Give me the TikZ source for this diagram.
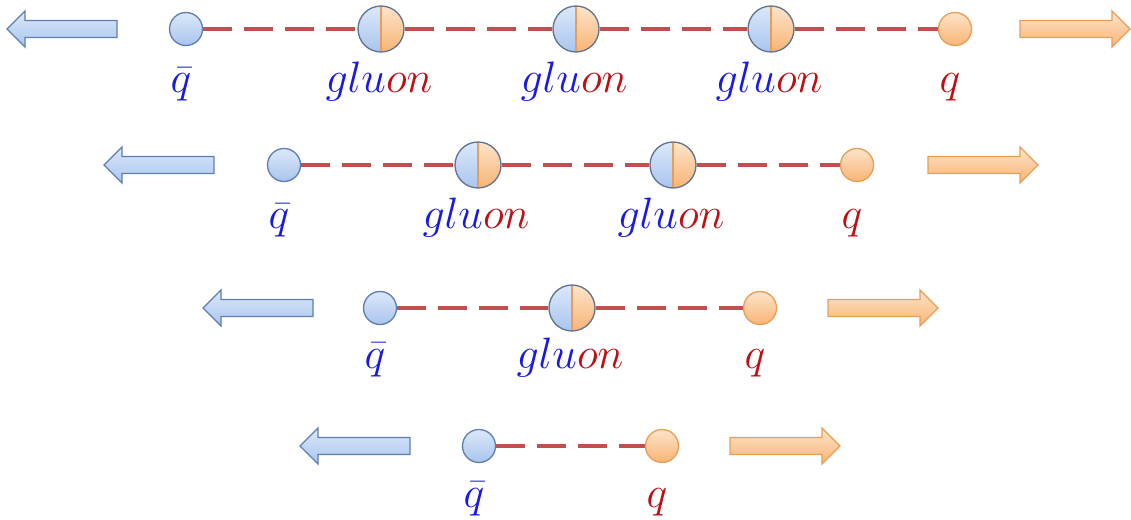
\documentclass[tikz,border=0pt]{standalone}
\usetikzlibrary{backgrounds}
\definecolor{qbtop}{HTML}{DCE8F9}
\definecolor{qbbot}{HTML}{A9C5EE}
\definecolor{qbdraw}{HTML}{5E7FB3}
\definecolor{qotop}{HTML}{FDE4CB}
\definecolor{qobot}{HTML}{F8B474}
\definecolor{qodraw}{HTML}{E99E55}
\definecolor{gdraw}{HTML}{5F7594}
\definecolor{dashred}{HTML}{C0504D}
\definecolor{txtblue}{RGB}{25,25,225}
\definecolor{txtred}{RGB}{190,15,20}
\tikzset{
  quarkb/.style={circle, minimum size=24.75pt, inner sep=0pt, draw=qbdraw, line width=1pt, top color=qbtop, bottom color=qbbot},
  quarko/.style={circle, minimum size=24.75pt, inner sep=0pt, draw=qodraw, line width=1pt, top color=qotop, bottom color=qobot},
  gluonst/.style={circle, minimum size=34.5pt, inner sep=0pt, draw=gdraw, line width=1pt,
    path picture={
      \shade[top color=qbtop, bottom color=qbbot] (path picture bounding box.south west) rectangle (path picture bounding box.north);
      \shade[top color=qotop, bottom color=qobot] (path picture bounding box.south) rectangle (path picture bounding box.north east);
      \draw[draw=qodraw, line width=1.2pt] (path picture bounding box.south) -- (path picture bounding box.north);
    }},
  string/.style={draw=dashred, line width=2.6pt, dash pattern=on 21.75pt off 9pt},
  larrowst/.style={draw=qbdraw, line width=1pt, top color=qbtop, bottom color=qbbot, line join=miter},
  rarrowst/.style={draw=qodraw, line width=1pt, top color=qotop, bottom color=qobot, line join=miter},
  lbl/.style={anchor=base, inner sep=0pt, font=\Huge, scale=1.326, transform shape}
}
\newcommand{\qqleft}[2]{\path[larrowst] (#1,#2) -- ++(18,-18) -- ++(0,9.5) -- ++(92,0) -- ++(0,17) -- ++(-92,0) -- ++(0,9.5) -- cycle;}
\newcommand{\qqright}[2]{\path[rarrowst] (#1,#2) -- ++(-18,-18) -- ++(0,9.5) -- ++(-92,0) -- ++(0,17) -- ++(92,0) -- ++(0,9.5) -- cycle;}
\newcommand{\gluontxt}{$\color{txtblue}glu\color{txtred}on$}
\begin{document}
\begin{tikzpicture}[x=0.75pt, y=-0.75pt]
\useasboundingbox (0,0) rectangle (1131,520);
% row 1
\qqleft{7}{29}
\qqright{1130}{29}
\node[quarkb] (qb1) at (186,29) {};
\node[gluonst] (g11) at (381,29) {};
\node[gluonst] (g12) at (576,29) {};
\node[gluonst] (g13) at (771,29) {};
\node[quarko] (q1) at (955,29) {};
\node[lbl] (lqb1) at (181,93) {$\color{txtblue}\bar q$};
\node[lbl] (lg11) at (379,93) {\gluontxt};
\node[lbl] (lg12) at (574,93) {\gluontxt};
\node[lbl] (lg13) at (769,93) {\gluontxt};
\node[lbl] (lq1) at (950,93) {$\color{txtred}q$};
% row 2
\qqleft{104}{165}
\qqright{1038}{165}
\node[quarkb] (qb2) at (284,165) {};
\node[gluonst] (g21) at (478,165) {};
\node[gluonst] (g22) at (673,165) {};
\node[quarko] (q2) at (857,165) {};
\node[lbl] (lqb2) at (279,229) {$\color{txtblue}\bar q$};
\node[lbl] (lg21) at (476,229) {\gluontxt};
\node[lbl] (lg22) at (671,229) {\gluontxt};
\node[lbl] (lq2) at (852,229) {$\color{txtred}q$};
% row 3
\qqleft{203}{308}
\qqright{938}{308}
\node[quarkb] (qb3) at (380,308) {};
\node[gluonst] (g31) at (572,308) {};
\node[quarko] (q3) at (760,308) {};
\node[lbl] (lqb3) at (375,368) {$\color{txtblue}\bar q$};
\node[lbl] (lg31) at (570,368) {\gluontxt};
\node[lbl] (lq3) at (755,368) {$\color{txtred}q$};
% row 4
\qqleft{300}{446}
\qqright{840}{446}
\node[quarkb] (qb4) at (479,446) {};
\node[quarko] (q4) at (662,446) {};
\node[lbl] (lqb4) at (474,507) {$\color{txtblue}\bar q$};
\node[lbl] (lq4) at (657,507) {$\color{txtred}q$};
% strings
\begin{scope}[on background layer]
\draw[string] (qb1) -- (g11);
\draw[string] (g11) -- (g12);
\draw[string] (g12) -- (g13);
\draw[string] (g13) -- (q1);
\draw[string] (qb2) -- (g21);
\draw[string] (g21) -- (g22);
\draw[string] (g22) -- (q2);
\draw[string] (qb3) -- (g31);
\draw[string] (g31) -- (q3);
\draw[string] (qb4) -- (q4);
\end{scope}
\end{tikzpicture}
\end{document}
